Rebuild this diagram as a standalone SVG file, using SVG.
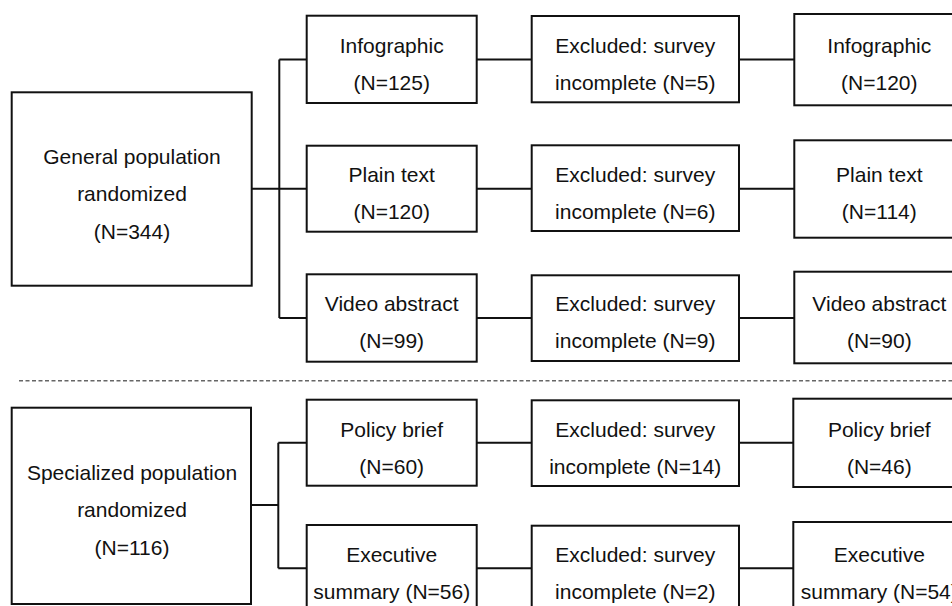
<svg xmlns="http://www.w3.org/2000/svg" width="952" height="606" viewBox="0 0 952 606">
<style>
.box{fill:#fff;stroke:#111;stroke-width:2}
.t{font-family:"Liberation Sans",Arial,sans-serif;font-size:21px;fill:#111;text-anchor:middle}
.c{fill:none;stroke:#111;stroke-width:2}
.d{fill:none;stroke:#666;stroke-width:1.5;stroke-dasharray:4 2.5}
</style>
<rect width="952" height="606" fill="#fff"/>
<g id="connectors">
<path class="c" d="M252 188.7H279.3M279.3 59.5V318M279.3 59.5H306.7M279.3 188.7H306.7M279.3 318H306.7"/>
<path class="c" d="M476.7 59.5H531.7M739 59.5H794.3M476.7 188.7H531.7M739 188.7H794.3M476.7 318H531.7M739 318H794.3"/>
<path class="c" d="M251 505H278.3M278.3 442.7V568.3M278.3 442.7H306.7M278.3 568.3H306.7"/>
<path class="c" d="M476.7 442.7H531.7M739 442.7H793.3M476.7 568.3H531.7M739 568.3H793.3"/>
<path class="d" d="M19 380.7H952"/>
</g>
<g id="general">
<rect class="box" x="11.7" y="92.3" width="240" height="193.4"/>
<text class="t" x="132" y="163.5">General population</text>
<text class="t" x="132" y="201">randomized</text>
<text class="t" x="132" y="238.5">(N=344)</text>
</g>
<g id="infographic">
<rect class="box" x="306.7" y="15.7" width="170" height="87.3"/>
<text class="t" x="391.7" y="52.7">Infographic</text>
<text class="t" x="391.7" y="89.5">(N=125)</text>
</g>
<g id="plaintext">
<rect class="box" x="306.7" y="145.7" width="170" height="86"/>
<text class="t" x="391.7" y="181.5">Plain text</text>
<text class="t" x="391.7" y="218.5">(N=120)</text>
</g>
<g id="video">
<rect class="box" x="306.7" y="274.3" width="170" height="87.4"/>
<text class="t" x="391.7" y="311">Video abstract</text>
<text class="t" x="391.7" y="348">(N=99)</text>
</g>
<g id="excl1">
<rect class="box" x="531.7" y="16" width="207.3" height="86.3"/>
<text class="t" x="635.3" y="52.7">Excluded: survey</text>
<text class="t" x="635.3" y="89.5">incomplete (N=5)</text>
</g>
<g id="excl2">
<rect class="box" x="531.7" y="145.3" width="207.3" height="85.7"/>
<text class="t" x="635.3" y="181.5">Excluded: survey</text>
<text class="t" x="635.3" y="218.5">incomplete (N=6)</text>
</g>
<g id="excl3">
<rect class="box" x="531.7" y="275.3" width="207.3" height="85.7"/>
<text class="t" x="635.3" y="311">Excluded: survey</text>
<text class="t" x="635.3" y="348">incomplete (N=9)</text>
</g>
<g id="final1">
<rect class="box" x="794.3" y="14" width="172" height="91.3"/>
<text class="t" x="879.3" y="52.7">Infographic</text>
<text class="t" x="879.3" y="89.5">(N=120)</text>
</g>
<g id="final2">
<rect class="box" x="794.3" y="140.3" width="172" height="97.4"/>
<text class="t" x="879.3" y="181.5">Plain text</text>
<text class="t" x="879.3" y="218.5">(N=114)</text>
</g>
<g id="final3">
<rect class="box" x="794.3" y="271.7" width="172" height="91.6"/>
<text class="t" x="879.3" y="311">Video abstract</text>
<text class="t" x="879.3" y="348">(N=90)</text>
</g>
<g id="specialized">
<rect class="box" x="11.7" y="407.7" width="239.3" height="196.3"/>
<text class="t" x="132" y="480">Specialized population</text>
<text class="t" x="132" y="517.3">randomized</text>
<text class="t" x="132" y="555">(N=116)</text>
</g>
<g id="policy">
<rect class="box" x="306.7" y="399.7" width="170" height="86"/>
<text class="t" x="391.7" y="436.7">Policy brief</text>
<text class="t" x="391.7" y="474">(N=60)</text>
</g>
<g id="executive">
<rect class="box" x="306.7" y="525" width="170" height="90"/>
<text class="t" x="391.7" y="561.7">Executive</text>
<text class="t" x="391.7" y="598.5">summary (N=56)</text>
</g>
<g id="excl4">
<rect class="box" x="531.7" y="400.3" width="207.3" height="85.7"/>
<text class="t" x="635.3" y="436.7">Excluded: survey</text>
<text class="t" x="635.3" y="474">incomplete (N=14)</text>
</g>
<g id="excl5">
<rect class="box" x="531.7" y="525.7" width="207.3" height="90"/>
<text class="t" x="635.3" y="561.7">Excluded: survey</text>
<text class="t" x="635.3" y="598.5">incomplete (N=2)</text>
</g>
<g id="final4">
<rect class="box" x="793.3" y="398.7" width="173" height="88.3"/>
<text class="t" x="879.3" y="436.7">Policy brief</text>
<text class="t" x="879.3" y="474">(N=46)</text>
</g>
<g id="final5">
<rect class="box" x="793.3" y="522" width="173" height="95"/>
<text class="t" x="879.3" y="561.7">Executive</text>
<text class="t" x="879.3" y="598.5">summary (N=54)</text>
</g>
</svg>
